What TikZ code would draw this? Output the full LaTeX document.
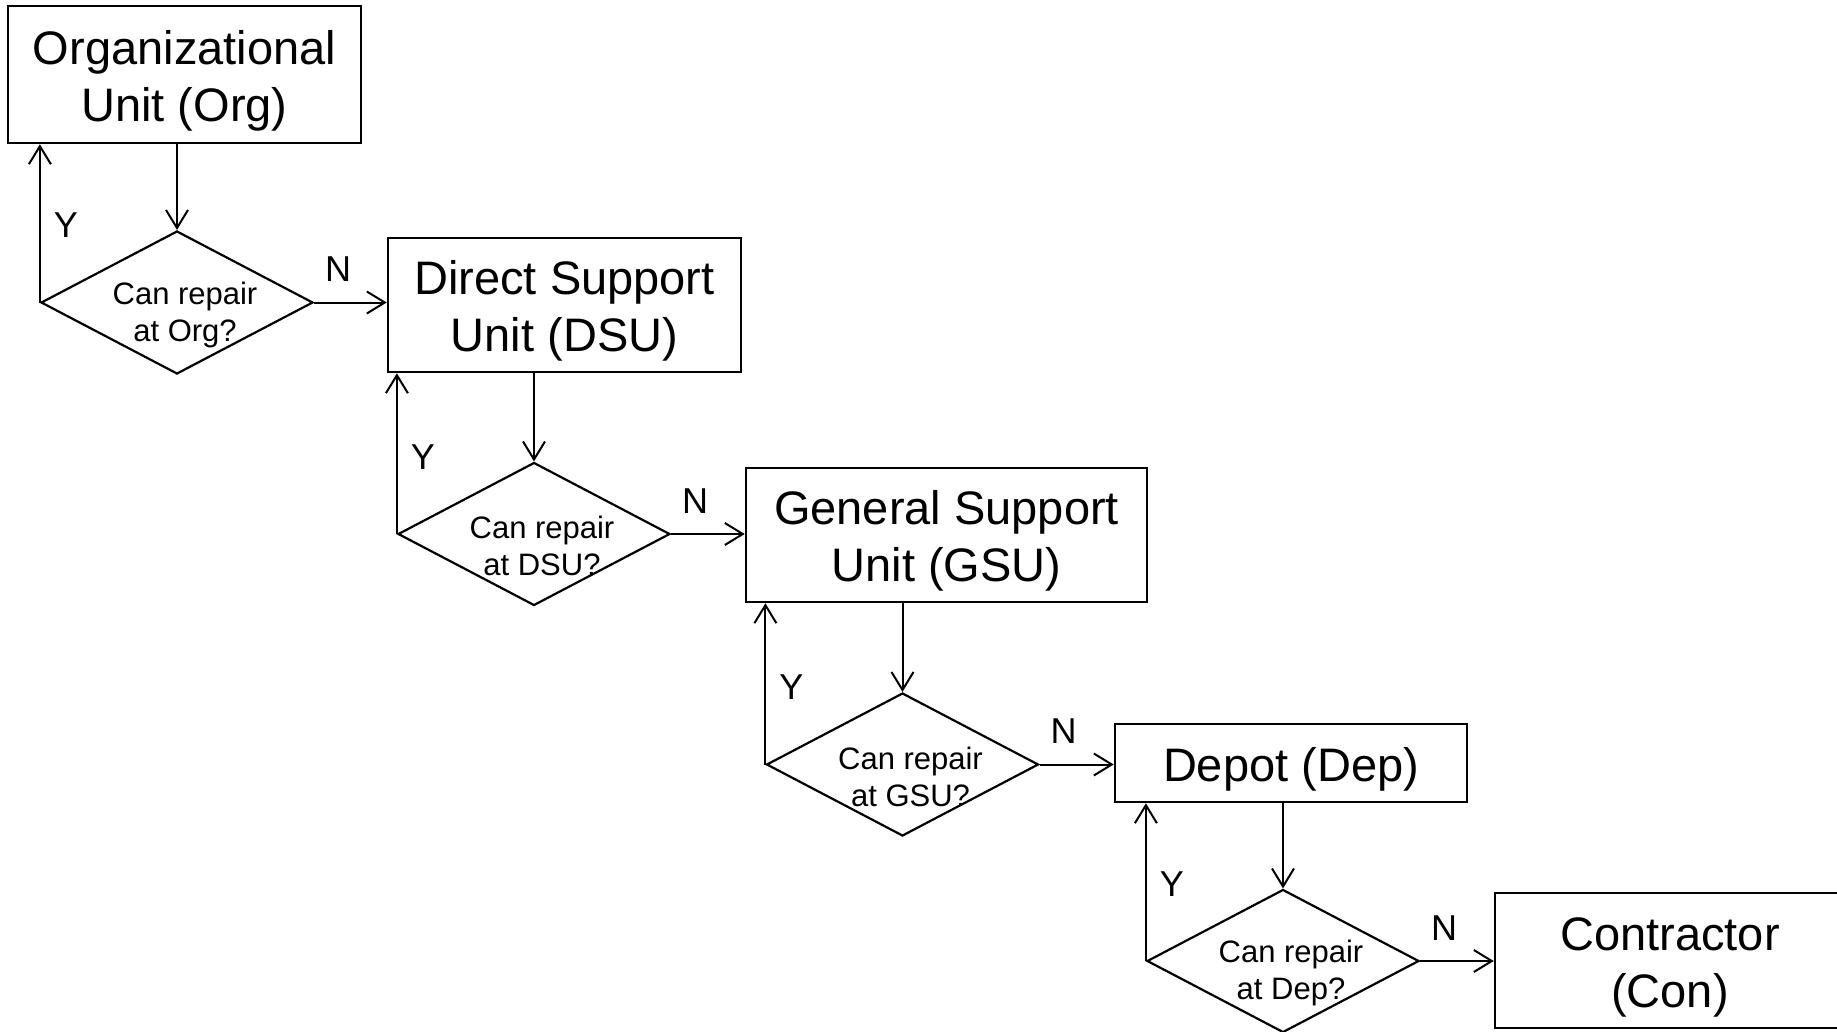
\documentclass[tikz,border=0pt]{standalone}
\usepackage{fontspec}
\setmainfont{Liberation Sans}
\usetikzlibrary{arrows.meta,shapes.geometric,calc}
\newcommand{\boxstrut}{\rule{0pt}{46pt}}
\begin{document}
\begin{tikzpicture}[x=1pt,y=-1pt,
  box/.style={draw,line width=2.5pt,inner sep=0pt,align=center,font=\fontsize{47}{57}\selectfont},
  dec/.style={draw,diamond,line width=2.2pt,inner sep=0pt,minimum width=272pt,minimum height=143pt},
  dtext/.style={align=center,inner sep=0pt,font=\fontsize{31}{37}\selectfont},
  yn/.style={inner sep=0pt,font=\fontsize{36}{43}\selectfont},
  arr/.style={line width=2pt,-{Straight Barb[length=18pt,width=22pt]}}]
\path[use as bounding box,fill=white] (0,0) rectangle (1837,1031);

% boxes
\node[box,minimum width=353pt,minimum height=137pt] (org) at (184.5,74.5) {\boxstrut Organizational\\Unit (Org)};
\node[box,minimum width=353pt,minimum height=134pt] (dsu) at (564.5,305) {\boxstrut Direct Support\\Unit (DSU)};
\node[box,minimum width=401pt,minimum height=134pt] (gsu) at (946.5,535) {\boxstrut General Support\\Unit (GSU)};
\node[box,minimum width=352pt,minimum height=78pt] (dep) at (1291,763) {\boxstrut Depot (Dep)};
\node[box,minimum width=350pt,minimum height=135pt] (con) at (1670,960.5) {\boxstrut Contractor\\(Con)};

% decisions
\node[dec] (d1) at (177,302.5) {};
\node[dec] (d2) at (534,534) {};
\node[dec] (d3) at (902.5,764.5) {};
\node[dec] (d4) at (1283,961) {};
\node[dtext] (t1) at ($(d1)+(8,12)$) {Can repair\\at Org?};
\node[dtext] (t2) at ($(d2)+(8,12)$) {Can repair\\at DSU?};
\node[dtext] (t3) at ($(d3)+(8,12)$) {Can repair\\at GSU?};
\node[dtext] (t4) at ($(d4)+(8,12)$) {Can repair\\at Dep?};

% connectors
\foreach \b/\d/\n in {org/d1/dsu, dsu/d2/gsu, gsu/d3/dep, dep/d4/con}{
  \draw[arr] (\b.south -| \d.north) -- (\d.north);
  \draw[arr] (\d.west) -- (\d.west |- \b.south);
  \draw[arr] (\d.east) -- (\d.east -| \n.west);
  \node[yn] (y\d) at ($(\d.west)+(26,-77)$) {Y};
  \node[yn] (n\d) at ($(\d.east)+(24,-33)$) {N};
}
\end{tikzpicture}
\end{document}
